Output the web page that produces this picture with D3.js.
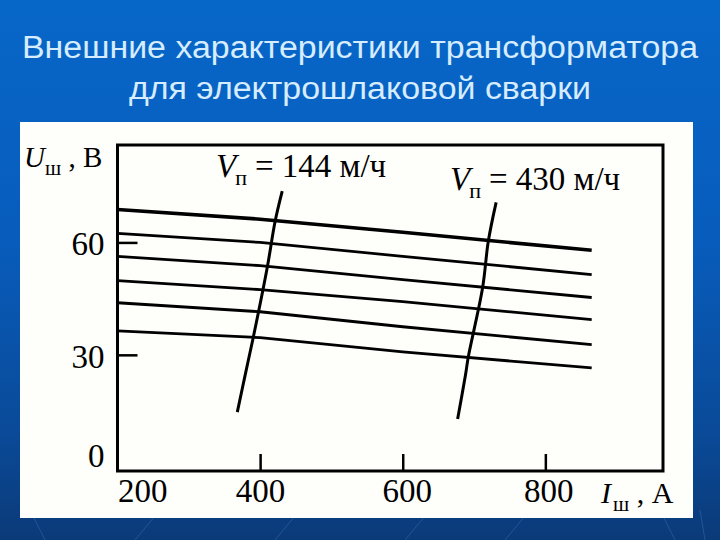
<!DOCTYPE html>
<html>
<head>
<meta charset="utf-8">
<script src="https://cdn.jsdelivr.net/npm/d3@7"></script>
<style>
  html, body { margin: 0; padding: 0; background: #0a5cbc; }
  svg { display: block; }
</style>
</head>
<body>
<svg id="chart" width="720" height="540"></svg>
<script>
// ---- data ----
const titleLines = ["Внешние характеристики трансформатора", "для электрошлаковой сварки"];
const currents = [200, 400, 600, 865];            // I_ш, A
const voltageSeries = [                            // U_ш, V — external characteristics
  [68.8, 66.2, 62.7, 57.9],
  [62.4, 60.0, 56.3, 51.4],
  [56.3, 53.8, 50.1, 45.3],
  [49.8, 47.4, 44.2, 39.4],
  [43.9, 41.5, 37.5, 32.7],
  [36.4, 34.6, 30.8, 26.5]
];
const speed144I = [431, 421, 410, 390, 379, 368];
const speed144U = [73.7, 65.6, 53.3, 34.3, 24.6, 14.7];
const speed430I = [731, 720, 712, 692, 688, 677];
const speed430U = [70.7, 60.3, 47.9, 29.5, 24.6, 12.9];
const xTicks = [200, 400, 600, 800];
const yTicks = [0, 30, 60];
const speedLabels = ["144", "430"];

// ---- drawing ----
const svg = d3.select("#chart");
const defs = svg.append("defs");
const grad = defs.append("linearGradient").attr("id", "bg").attr("x1", 0).attr("y1", 0).attr("x2", 0).attr("y2", 1);
grad.append("stop").attr("offset", "0%").attr("stop-color", "#0767c9");
grad.append("stop").attr("offset", "45%").attr("stop-color", "#085cbb");
grad.append("stop").attr("offset", "80%").attr("stop-color", "#0a4a98");
grad.append("stop").attr("offset", "100%").attr("stop-color", "#0b3a78");
svg.append("rect").attr("width", 720).attr("height", 540).attr("fill", "url(#bg)");

// faint diagonal streaks on the lower background
const streaks = [[30, 60], [160, 150], [300, 290], [430, 420], [530, 520], [660, 690], [700, 720]];
svg.append("g").selectAll("line").data(streaks).join("line")
  .attr("x1", d => d[0]).attr("y1", 510).attr("x2", d => d[1] - 15).attr("y2", 540)
  .attr("stroke", "#4f86c8").attr("stroke-opacity", 0.35).attr("stroke-width", 1);

// title
svg.append("g").selectAll("text").data(titleLines).join("text")
  .attr("x", 360).attr("y", (d, i) => 58 + i * 41)
  .attr("text-anchor", "middle")
  .attr("font-family", "Liberation Sans, Arial, sans-serif")
  .attr("font-size", 31)
  .attr("fill", "#d6ecff")
  .attr("textLength", (d, i) => i === 0 ? 676 : 462)
  .attr("lengthAdjust", "spacingAndGlyphs")
  .text(d => d);

// white panel
svg.append("rect").attr("x", 20).attr("y", 122).attr("width", 673).attr("height", 396).attr("fill", "#fefefb");

const serif = "Liberation Serif, Times New Roman, serif";
const x = d3.scaleLinear().domain([200, 965]).range([117.5, 663]);
const y = d3.scaleLinear().domain([-1, 86]).range([471, 145]);

// frame
svg.append("rect")
  .attr("x", x(200)).attr("y", y(86))
  .attr("width", x(965) - x(200)).attr("height", y(-1) - y(86))
  .attr("fill", "none").attr("stroke", "#000").attr("stroke-width", 3);

// x axis
const gx = svg.append("g").attr("transform", `translate(0,${y(-1)})`)
  .call(d3.axisBottom(x).tickValues(xTicks).tickSize(-17).tickPadding(8).tickFormat(d3.format("d")));
gx.select(".domain").remove();
gx.selectAll(".tick line").attr("stroke", "#000").attr("stroke-width", 2.5)
  .attr("display", d => d === 200 ? "none" : null);
gx.selectAll(".tick text")
  .attr("font-family", serif).attr("font-size", 33).attr("fill", "#000")
  .attr("text-anchor", d => d === 200 ? "start" : "middle")
  .attr("dx", d => d === 800 ? 3 : (d === 600 ? 4 : 0));

// y axis
const gy = svg.append("g").attr("transform", `translate(${x(200)},0)`)
  .call(d3.axisLeft(y).tickValues(yTicks).tickSize(-20).tickPadding(13).tickFormat(d3.format("d")));
gy.select(".domain").remove();
gy.selectAll(".tick line").attr("stroke", "#000").attr("stroke-width", 2.5)
  .attr("display", d => d === 0 ? "none" : null);
gy.selectAll(".tick text")
  .attr("font-family", serif).attr("font-size", 33).attr("fill", "#000")
  .attr("dy", d => d === 0 ? "-0.02em" : "0.38em");

// external characteristic lines
const line = d3.line().x(d => x(d[0])).y(d => y(d[1]));
svg.append("g").selectAll("path").data(voltageSeries).join("path")
  .attr("d", s => line(s.map((v, i) => [currents[i], v])))
  .attr("fill", "none").attr("stroke", "#000")
  .attr("stroke-width", (d, i) => i === 0 ? 3.6 : 2.8);

// constant electrode-feed speed lines
const speedLines = [
  speed144I.map((v, i) => [v, speed144U[i]]),
  speed430I.map((v, i) => [v, speed430U[i]])
];
svg.append("g").selectAll("path").data(speedLines).join("path")
  .attr("d", d3.line().curve(d3.curveCatmullRom).x(d => x(d[0])).y(d => y(d[1])))
  .attr("fill", "none").attr("stroke", "#000").attr("stroke-width", 3);

// speed labels
const labelPos = [[216, 177], [450, 190]];
speedLabels.forEach((s, i) => {
  const t = svg.append("text").attr("x", labelPos[i][0]).attr("y", labelPos[i][1])
    .attr("font-family", serif).attr("font-size", 33).attr("fill", "#000");
  t.append("tspan").attr("font-style", "italic").text("V");
  t.append("tspan").attr("font-size", 22).attr("dy", 8).attr("dx", -1).text("п");
  t.append("tspan").attr("dy", -8).attr("dx", 8).text("= " + s + " м/ч");
});

// axis titles
const ut = svg.append("text").attr("x", 24).attr("y", 167)
  .attr("font-family", serif).attr("font-size", 29).attr("fill", "#000");
ut.append("tspan").attr("font-style", "italic").text("U");
ut.append("tspan").attr("font-size", 21).attr("dy", 8).text("ш");
ut.append("tspan").attr("dy", -8).text(" , В");

const it = svg.append("text").attr("x", 601).attr("y", 503)
  .attr("font-family", serif).attr("font-size", 30).attr("fill", "#000");
it.append("tspan").attr("font-style", "italic").text("I");
it.append("tspan").attr("font-size", 21).attr("dy", 8).attr("dx", 2).text("ш");
it.append("tspan").attr("dy", -8).text(" , А");
</script>
</body>
</html>
